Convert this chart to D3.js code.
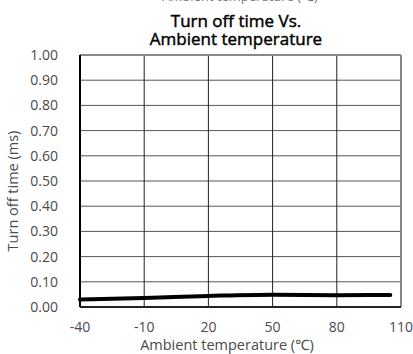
<!DOCTYPE html>
<html lang="en">
<head>
<meta charset="UTF-8">
<script src="https://d3js.org/d3.v7.min.js"></script>
<style>
  body { margin: 0; background: #fff; }
  text { font-family: "Open Sans", "Noto Sans", sans-serif; }
</style>
</head>
<body>
<div id="chart"></div>
<script>
  // data
  const temps = [-40, -10, 20, 50, 80, 105];
  const turnOff = [0.030, 0.036, 0.044, 0.049, 0.047, 0.048];
  const xTicks = [-40, -10, 20, 50, 80, 110];
  const yTicks = [0, 0.1, 0.2, 0.3, 0.4, 0.5, 0.6, 0.7, 0.8, 0.9, 1.0];

  const width = 413, height = 354;
  const plotLeft = 80, plotRight = 401, plotTop = 55, plotBottom = 307;

  const svg = d3.select('#chart').append('svg')
    .attr('width', width).attr('height', height);

  const x = d3.scaleLinear().domain([-40, 110]).range([plotLeft, plotRight]);
  const y = d3.scaleLinear().domain([0, 1]).range([plotBottom, plotTop]);

  // leftover caption from the chart above, clipped at the top
  svg.append('text')
    .attr('x', 240).attr('y', 1)
    .attr('text-anchor', 'middle')
    .style('font-size', '13px').attr('fill', '#777')
    .text('Ambient temperature (℃)');

  // title (slightly heavier than regular, like the reference)
  const titleLines = ['Turn off time Vs.', 'Ambient temperature'];
  svg.append('g').selectAll('text')
    .data(titleLines)
    .enter().append('text')
    .attr('x', 236).attr('y', (d, i) => 27 + i * 18)
    .attr('text-anchor', 'middle')
    .style('font-size', '17px')
    .attr('fill', '#000').attr('stroke', '#000').attr('stroke-width', 0.45)
    .text(d => d);

  // horizontal grid
  svg.append('g').selectAll('line')
    .data(yTicks.slice(1, -1))
    .enter().append('line')
    .attr('x1', plotLeft).attr('x2', plotRight)
    .attr('y1', d => y(d)).attr('y2', d => y(d))
    .attr('stroke', '#555').attr('stroke-width', 1);

  // vertical grid
  svg.append('g').selectAll('line')
    .data(xTicks.slice(1, -1))
    .enter().append('line')
    .attr('x1', d => x(d)).attr('x2', d => x(d))
    .attr('y1', plotTop).attr('y2', plotBottom)
    .attr('stroke', '#222').attr('stroke-width', 1);

  // frame: top and right gray, left and bottom black
  svg.append('line').attr('x1', plotLeft).attr('x2', plotRight).attr('y1', plotTop).attr('y2', plotTop)
    .attr('stroke', '#888').attr('stroke-width', 2);
  svg.append('line').attr('x1', plotRight).attr('x2', plotRight).attr('y1', plotTop).attr('y2', plotBottom)
    .attr('stroke', '#888').attr('stroke-width', 2);
  svg.append('line').attr('x1', plotLeft).attr('x2', plotLeft).attr('y1', plotTop).attr('y2', plotBottom)
    .attr('stroke', '#000').attr('stroke-width', 2);
  svg.append('line').attr('x1', plotLeft).attr('x2', plotRight).attr('y1', plotBottom).attr('y2', plotBottom)
    .attr('stroke', '#222').attr('stroke-width', 2);

  // y tick labels
  svg.append('g').selectAll('text')
    .data(yTicks)
    .enter().append('text')
    .attr('x', 58).attr('y', d => y(d) + 5)
    .attr('text-anchor', 'end')
    .style('font-size', '14px').attr('fill', '#4a4a4a')
    .text(d => d.toFixed(2));

  // x tick labels
  svg.append('g').selectAll('text')
    .data(xTicks)
    .enter().append('text')
    .attr('x', d => x(d)).attr('y', 332)
    .attr('text-anchor', 'middle')
    .style('font-size', '14px').attr('fill', '#4a4a4a')
    .text(d => d);

  // axis titles
  svg.append('text')
    .attr('x', 227).attr('y', 350)
    .attr('text-anchor', 'middle')
    .style('font-size', '14.5px').attr('fill', '#4a4a4a')
    .text('Ambient temperature (℃)');
  svg.append('text')
    .attr('transform', 'translate(18,191) rotate(-90)')
    .attr('text-anchor', 'middle')
    .style('font-size', '14.5px').attr('fill', '#4a4a4a')
    .text('Turn off time  (ms)');

  // data line
  const line = d3.line().x((d, i) => x(temps[i])).y(d => y(d)).curve(d3.curveMonotoneX);
  svg.append('path')
    .datum(turnOff)
    .attr('d', line)
    .attr('fill', 'none')
    .attr('stroke', '#000')
    .attr('stroke-width', 4)
    .attr('stroke-linecap', 'round');
</script>
</body>
</html>
